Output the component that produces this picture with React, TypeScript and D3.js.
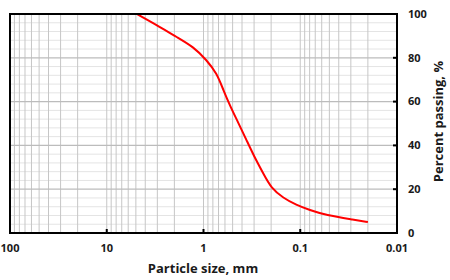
import { useEffect, useRef } from 'react';
import * as d3 from 'd3';

// particle size (mm) vs percent passing
const SIZES = [4.9, 2.8, 1.9, 1.27, 0.93, 0.73, 0.62, 0.53, 0.45, 0.36, 0.3, 0.24, 0.2, 0.15, 0.11, 0.08, 0.055, 0.027, 0.02];
const PASSING = [100, 94, 89.5, 85, 79, 73, 65, 58, 51.5, 42.5, 35, 27, 20.5, 16, 12.8, 10.5, 8.2, 6, 5];

const X_TICKS = [100, 10, 1, 0.1, 0.01];
const Y_TICKS = [0, 20, 40, 60, 80, 100];

const W = 450;
const H = 280;
const FONT = '"Open Sans", "DejaVu Sans", sans-serif';

export default function App() {
  const ref = useRef<SVGSVGElement>(null);

  useEffect(() => {
    if (!ref.current) return;
    const svg = d3.select(ref.current);
    svg.selectAll('*').remove();

    const left = 10, right = 397, top = 14, bottom = 233;

    const x = d3.scaleLog().domain([100, 0.01]).range([left, right]);
    const y = d3.scaleLinear().domain([0, 100]).range([bottom, top]);

    const g = svg.append('g');

    // minor horizontal grid every 4%
    const minorY = d3.range(0, 101, 4).filter(v => v % 20 !== 0);
    g.selectAll('.hminor')
      .data(minorY)
      .join('line')
      .attr('x1', left).attr('x2', right)
      .attr('y1', d => y(d)).attr('y2', d => y(d))
      .attr('stroke', '#e4e4e4')
      .attr('stroke-width', 1);

    // vertical log grid
    const vLines: number[] = [];
    [0.01, 0.1, 1, 10].forEach(dec => {
      for (let k = 1; k <= 9; k++) vLines.push(dec * k);
    });
    g.selectAll('.vgrid')
      .data(vLines.filter(v => v > 0.01 && v < 100))
      .join('line')
      .attr('x1', d => x(d)).attr('x2', d => x(d))
      .attr('y1', top).attr('y2', bottom)
      .attr('stroke', '#c6c6c6')
      .attr('stroke-width', 1);

    // major horizontal grid
    g.selectAll('.hmajor')
      .data(Y_TICKS.filter(v => v > 0 && v < 100))
      .join('line')
      .attr('x1', left).attr('x2', right)
      .attr('y1', d => y(d)).attr('y2', d => y(d))
      .attr('stroke', '#bcbcbc')
      .attr('stroke-width', 1.2);

    // curve (smoothed B-spline through the read points)
    const pts = SIZES.map((s, i) => [x(s), y(PASSING[i])] as [number, number]);
    g.append('path')
      .attr('d', d3.line().curve(d3.curveBasis)(pts))
      .attr('fill', 'none')
      .attr('stroke', '#ff0000')
      .attr('stroke-width', 2);

    // frame
    g.append('rect')
      .attr('x', left).attr('y', top)
      .attr('width', right - left).attr('height', bottom - top)
      .attr('fill', 'none')
      .attr('stroke', '#000')
      .attr('stroke-width', 2);

    // inward ticks
    g.selectAll('.xt')
      .data(X_TICKS.slice(1, -1))
      .join('line')
      .attr('x1', d => x(d)).attr('x2', d => x(d))
      .attr('y1', bottom).attr('y2', bottom - 4)
      .attr('stroke', '#000').attr('stroke-width', 2);
    g.selectAll('.yt')
      .data(Y_TICKS.slice(1, -1))
      .join('line')
      .attr('x1', right).attr('x2', right - 4)
      .attr('y1', d => y(d)).attr('y2', d => y(d))
      .attr('stroke', '#000').attr('stroke-width', 2);

    // tick labels
    g.selectAll('.xl')
      .data(X_TICKS)
      .join('text')
      .attr('x', d => x(d))
      .attr('y', 252)
      .attr('text-anchor', 'middle')
      .attr('font-family', FONT)
      .attr('font-weight', 'bold')
      .attr('font-size', 11)
      .attr('fill', '#1a1a1a')
      .text(d => String(d));

    g.selectAll('.yl')
      .data(Y_TICKS)
      .join('text')
      .attr('x', 408)
      .attr('y', d => y(d))
      .attr('dy', '0.35em')
      .attr('font-family', FONT)
      .attr('font-weight', 'bold')
      .attr('font-size', 11)
      .attr('fill', '#1a1a1a')
      .text(d => String(d));

    // axis titles
    g.append('text')
      .attr('x', 203)
      .attr('y', 273)
      .attr('text-anchor', 'middle')
      .attr('font-family', FONT)
      .attr('font-weight', 'bold')
      .attr('font-size', 13)
      .attr('fill', '#1a1a1a')
      .text('Particle size, mm');

    g.append('text')
      .attr('transform', `translate(443,${(top + bottom) / 2 - 2}) rotate(-90)`)
      .attr('text-anchor', 'middle')
      .attr('font-family', FONT)
      .attr('font-weight', 'bold')
      .attr('font-size', 13)
      .attr('fill', '#1a1a1a')
      .text('Percent passing, %');
  }, []);

  return (
    <div style={{ position: 'fixed', left: 0, top: 0, width: W, height: H, background: '#fff' }}>
      <svg ref={ref} width={W} height={H} style={{ display: 'block' }} />
    </div>
  );
}
